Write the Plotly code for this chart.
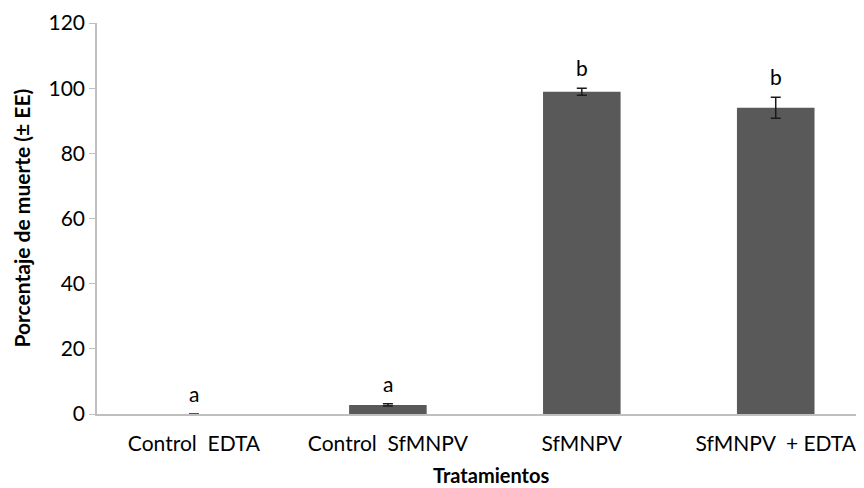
import plotly.graph_objects as go

categories = ["Control  EDTA", "Control  SfMNPV", "SfMNPV", "SfMNPV  + EDTA"]
mortality = [0, 2.8, 98.9, 94.0]
std_error = [0, 0.35, 1.1, 3.2]
letters = ["a", "a", "b", "b"]

fig = go.Figure()
fig.add_trace(go.Bar(
    x=categories, y=mortality,
    marker=dict(color="#595959", line=dict(width=0)),
    width=0.4,
    error_y=dict(type="data", array=std_error, visible=True,
                 color="#1a1a1a", thickness=1.5, width=5),
))

for c, v, e, l in zip(categories, mortality, std_error, letters):
    fig.add_annotation(x=c, y=v + e, text=l, showarrow=False,
                       yanchor="bottom", yshift=6,
                       font=dict(size=21, color="#000000", family="Lato"))

fig.add_annotation(text="<b>Tratamientos</b>", xref="paper", yref="paper",
                   x=0.514, y=0, yanchor="middle", yshift=-61, showarrow=False,
                   font=dict(size=20, family="Lato", color="#000000"))
fig.add_annotation(text="<b>Porcentaje de muerte (± EE)</b>", xref="paper", yref="paper",
                   x=0, y=0.5, xanchor="center", yanchor="middle", xshift=-76,
                   textangle=-90, showarrow=False,
                   font=dict(size=21, family="Lato", color="#000000"))

fig.update_layout(
    width=856, height=480,
    margin=dict(l=89, r=1, t=15, b=74),
    plot_bgcolor="white", paper_bgcolor="white",
    showlegend=False,
    font=dict(family="Lato", color="#000000"),
    xaxis=dict(
        range=[-0.5, 3.45], automargin=False,
        showline=True, linecolor="#bfbfbf", linewidth=1.5,
        ticks="", tickfont=dict(size=21, family="Lato"),
        ticklabelstandoff=10,
    ),
    yaxis=dict(
        range=[0, 120], dtick=20, automargin=False,
        showline=True, linecolor="#bfbfbf", linewidth=1.5,
        ticks="outside", ticklen=6, tickcolor="#bfbfbf",
        showgrid=False, zeroline=False,
        tickfont=dict(size=21, family="Lato"),
    ),
)

fig.write_html("out.html")
